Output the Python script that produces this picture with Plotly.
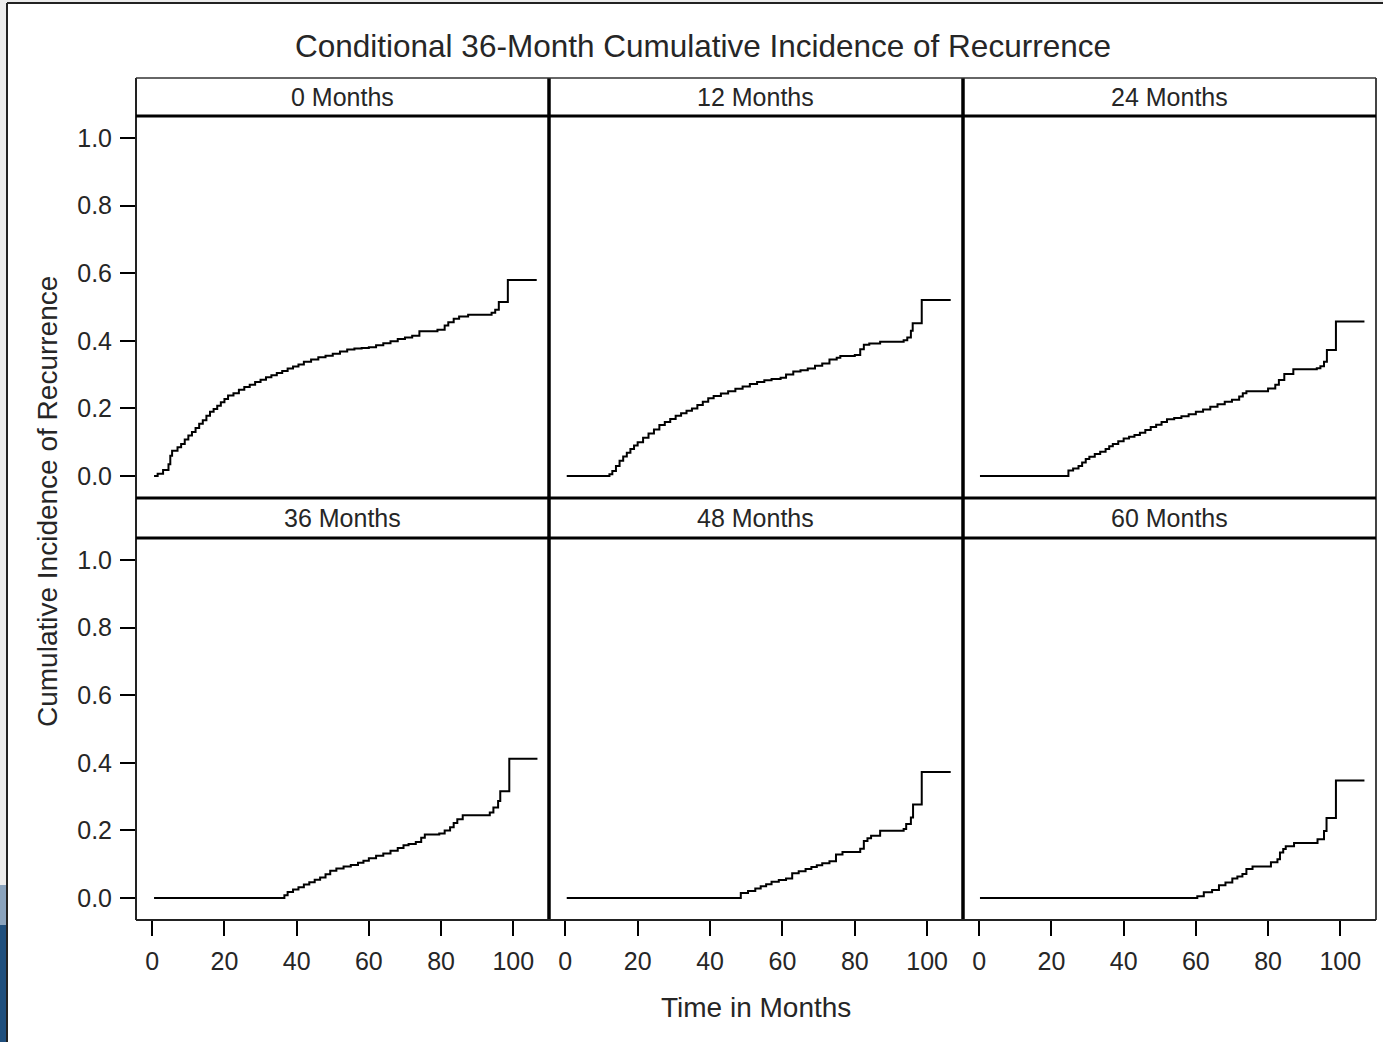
import plotly.graph_objects as go

# ---------------- data ----------------
panel_labels = ["0 Months", "12 Months", "24 Months", "36 Months", "48 Months", "60 Months"]

t_0m = [0.5, 1.5, 3, 4.5, 5, 5.5, 7, 8, 9, 10, 11, 12, 13, 14, 15, 16, 17, 18, 19, 20,
        21, 22.5, 24, 25.5, 27, 28.5, 30, 31.5, 33, 34.5, 36, 37.5, 39, 40.5, 42, 44, 46, 48, 50, 52,
        54, 56, 58, 60, 62, 64, 66, 68, 70, 72, 74, 79, 81, 82, 83.5, 85, 87.5, 94, 95, 96,
        98.5, 106.5]
ci_0m = [0, .007, .018, .035, .06, .075, .085, .095, .108, .12, .13, .142, .155, .165, .178, .19, .198, .208, .218, .228,
         .238, .245, .255, .263, .27, .278, .285, .292, .298, .305, .311, .318, .324, .33, .338, .345, .351, .356, .362, .368,
         .374, .377, .379, .381, .387, .393, .399, .405, .41, .415, .428, .433, .445, .455, .465, .472, .477, .483, .492, .515,
         .58, .58]

t_12m = [0.4, 12.2, 13, 14, 15, 16, 17, 18, 19, 20, 21.5, 23, 24.5, 26, 27.5, 29, 30.5, 32, 33.5, 35,
         36.5, 38, 39.5, 41, 43, 45, 47, 49, 51, 53, 55, 57, 59.5, 61, 63, 65, 67, 69, 71, 73,
         75, 76, 80, 81.5, 82.5, 84, 87, 93.5, 94.5, 95.5, 96, 98.5, 106.5]
ci_12m = [0, .005, .015, .03, .045, .058, .069, .08, .09, .1, .113, .126, .138, .151, .16, .169, .178, .186, .193, .2,
          .21, .22, .23, .237, .244, .251, .258, .265, .272, .278, .283, .287, .291, .3, .309, .313, .318, .326, .333, .345,
          .35, .355, .358, .375, .388, .392, .397, .402, .41, .43, .452, .521, .521]

t_24m = [0.2, 24.7, 26, 27.5, 28.5, 29.5, 30.5, 32, 33.5, 35, 36, 37, 38.5, 40, 41.5, 43, 44.5, 46, 47.5, 49,
         50.5, 52, 54, 56, 58, 60, 62, 64, 66, 68, 70, 72, 73, 74, 80, 82, 83, 84.5, 87, 93.5,
         94.5, 95.5, 96.3, 98.8, 106.7]
ci_24m = [0, .016, .022, .03, .04, .05, .057, .065, .072, .08, .088, .095, .103, .111, .116, .121, .128, .136, .145, .152,
          .16, .168, .172, .177, .183, .19, .197, .205, .212, .22, .226, .235, .245, .251, .259, .27, .284, .302, .316, .319,
          .325, .338, .373, .457, .457]

t_36m = [0.5, 36.6, 37.5, 39, 40.5, 42, 43.5, 45, 46.5, 48, 49.3, 51, 53, 55, 57, 58.5, 60, 62, 64, 66,
         68, 69.6, 71, 73, 74.5, 75.5, 79.5, 81, 82.5, 83.5, 84.5, 86, 93.5, 94.5, 95.8, 96.4, 98.9, 106.7]
ci_36m = [0, .008, .018, .025, .032, .04, .047, .054, .061, .07, .081, .087, .093, .098, .104, .11, .118, .125, .132, .14,
          .148, .156, .16, .166, .178, .188, .191, .2, .209, .222, .233, .245, .253, .268, .287, .316, .412, .412]

t_48m = [0.4, 48.5, 50.5, 52.5, 54, 55.5, 57, 59, 61, 62.7, 64.5, 66.4, 68, 69.5, 71, 73, 74.8, 76.6, 81.5, 82.5,
         83.5, 84.5, 87, 93.5, 94.2, 95.5, 96.1, 98.5, 106.5]
ci_48m = [0, .015, .021, .028, .035, .041, .048, .053, .058, .073, .079, .086, .092, .097, .103, .109, .129, .136, .146, .169,
          .177, .184, .199, .204, .219, .238, .277, .373, .373]

t_60m = [0.2, 60.4, 62.2, 64.5, 66.4, 68.2, 70.1, 71.5, 72.9, 74, 75.7, 80.8, 82.6, 83.3, 84.2, 84.9, 87.2, 93.7, 95.5, 96.2,
         98.8, 106.7]
ci_60m = [0, .005, .017, .024, .038, .046, .058, .064, .071, .086, .093, .106, .115, .135, .145, .153, .163, .174, .198, .237,
          .348, .348]

x_ticks = [0, 20, 40, 60, 80, 100]
y_ticks = [0.0, 0.2, 0.4, 0.6, 0.8, 1.0]

title_text = "Conditional 36-Month Cumulative Incidence of Recurrence"
x_title = "Time in Months"
y_title = "Cumulative Incidence of Recurrence"

series_t = [t_0m, t_12m, t_24m, t_36m, t_48m, t_60m]
series_ci = [ci_0m, ci_12m, ci_24m, ci_36m, ci_48m, ci_60m]

# ---------------- layout geometry ----------------
W, H = 1383, 1042
def px(x):
    return x / W
def py(y):
    return 1 - y / H

col_edges = [136, 549, 963, 1376]
plot_rows = [(116, 498), (538, 920)]
head_rows = [(78, 116), (498, 538)]

FONT = "Liberation Sans, Arial, sans-serif"
TXT = "#262626"

fig = go.Figure()
layout = dict(
    width=W, height=H,
    margin=dict(l=0, r=0, t=0, b=0),
    paper_bgcolor="white", plot_bgcolor="white",
    showlegend=False,
    font=dict(family=FONT, color=TXT, size=24),
)

for i in range(6):
    r, c = divmod(i, 3)
    n = "" if i == 0 else str(i + 1)
    top, bot = plot_rows[r]
    xa = dict(domain=[px(col_edges[c]), px(col_edges[c + 1])], range=[-4.5, 109.9],
              showgrid=False, zeroline=False, showline=False, anchor="y" + n, fixedrange=True)
    ya = dict(domain=[py(bot), py(top)], range=[-0.065, 1.065],
              showgrid=False, zeroline=False, showline=False, anchor="x" + n, fixedrange=True)
    if r == 1:
        xa.update(tickmode="array", tickvals=x_ticks, ticks="outside", ticklen=15, tickwidth=2,
                  tickcolor="black", showticklabels=True, ticklabelstandoff=4,
                  tickfont=dict(size=25, color=TXT, family=FONT))
    else:
        xa.update(showticklabels=False, ticks="")
    if c == 0:
        ya.update(tickmode="array", tickvals=y_ticks, tickformat=".1f", ticks="outside", ticklen=15,
                  tickwidth=2, tickcolor="black", showticklabels=True, ticklabelstandoff=3,
                  tickfont=dict(size=25, color=TXT, family=FONT))
    else:
        ya.update(showticklabels=False, ticks="")
    layout["xaxis" + n] = xa
    layout["yaxis" + n] = ya
    fig.add_trace(go.Scatter(x=series_t[i], y=series_ci[i], mode="lines",
                             line=dict(shape="hv", color="black", width=2),
                             xaxis="x" + n, yaxis="y" + n, hoverinfo="skip"))

shapes = []
def line(x0, y0, x1, y1, w, color="black"):
    shapes.append(dict(type="line", xref="paper", yref="paper",
                       x0=px(x0), y0=py(y0), x1=px(x1), y1=py(y1),
                       line=dict(color=color, width=w)))

# outer frame / background strips
shapes.append(dict(type="rect", xref="paper", yref="paper", x0=0, x1=px(7), y0=0, y1=1,
                   fillcolor="#ececec", line=dict(width=0), layer="below"))
shapes.append(dict(type="rect", xref="paper", yref="paper", x0=0, x1=1, y0=py(3), y1=1,
                   fillcolor="#ececec", line=dict(width=0), layer="below"))
shapes.append(dict(type="rect", xref="paper", yref="paper", x0=0, x1=px(7), y0=py(925), y1=py(885),
                   fillcolor="#8aa3bd", line=dict(width=0), layer="below"))
shapes.append(dict(type="rect", xref="paper", yref="paper", x0=0, x1=px(7), y0=0, y1=py(925),
                   fillcolor="#1f4f7d", line=dict(width=0), layer="below"))
line(7, 3, 1383, 3, 2, "#222")
line(7, 3, 7, 1042, 2, "#222")

# panel borders
line(136, 78, 136, 920, 2, "#222")
line(1376, 78, 1376, 920, 2, "#444")
line(549, 78, 549, 920, 3.5)
line(963, 78, 963, 920, 3.5)
line(136, 78, 1376, 78, 1.5, "#333")
line(136, 116, 1376, 116, 3)
line(136, 498, 1376, 498, 3)
line(136, 538, 1376, 538, 3)
line(136, 920, 1376, 920, 2, "#222")
layout["shapes"] = shapes

ann = []
ann.append(dict(text=title_text, x=px(703), y=py(46), xref="paper", yref="paper",
                showarrow=False, font=dict(size=31.5, color=TXT, family=FONT), xanchor="center", yanchor="middle"))
for i, lab in enumerate(panel_labels):
    r, c = divmod(i, 3)
    h0, h1 = head_rows[r]
    ann.append(dict(text=lab, x=px((col_edges[c] + col_edges[c + 1]) / 2), y=py((h0 + h1) / 2),
                    xref="paper", yref="paper", showarrow=False,
                    font=dict(size=25, color=TXT, family=FONT), xanchor="center", yanchor="middle"))
ann.append(dict(text=y_title, x=px(47), y=py(502), xref="paper", yref="paper", showarrow=False,
                textangle=-90, font=dict(size=28, color=TXT, family=FONT), xanchor="center", yanchor="middle"))
ann.append(dict(text=x_title, x=px(756), y=py(1007), xref="paper", yref="paper", showarrow=False,
                font=dict(size=28, color=TXT, family=FONT), xanchor="center", yanchor="middle"))
layout["annotations"] = ann

fig.update_layout(**layout)
fig.write_html("out.html", config={"displayModeBar": False},
               post_script="document.body.style.margin='0';document.body.style.padding='0';"
                           "document.body.style.overflow='hidden';")
